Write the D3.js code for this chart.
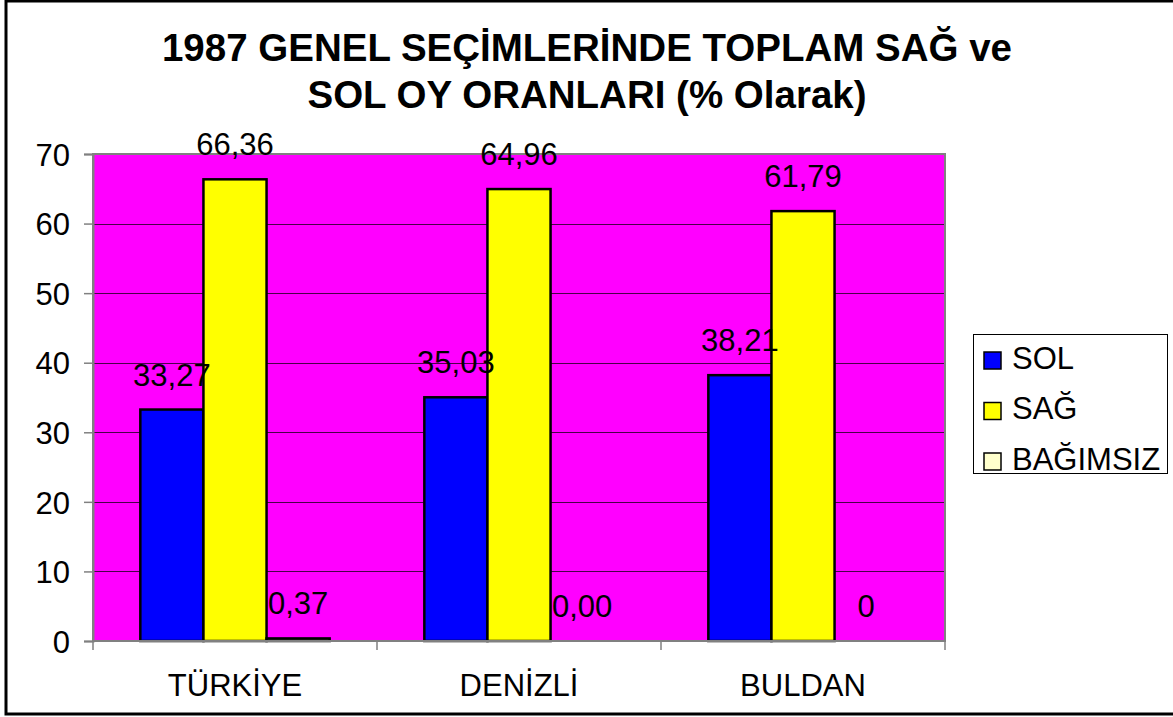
<!DOCTYPE html>
<html>
<head>
<meta charset="utf-8">
<script src="https://cdn.jsdelivr.net/npm/d3@7"></script>
<style>
  body { margin: 0; background: #fff; }
  svg { display: block; font-family: "Liberation Sans", Arial, sans-serif; }
</style>
</head>
<body>
<div id="container"></div>
<script>
var width = 1173;
var height = 717;

// data
var categories = ["TÜRKİYE", "DENİZLİ", "BULDAN"];
var seriesNames = ["SOL", "SAĞ", "BAĞIMSIZ"];
var solValues = [33.27, 35.03, 38.21];
var sagValues = [66.36, 64.96, 61.79];
var bagimsizValues = [0.37, 0.0, 0];
var solLabels = ["33,27", "35,03", "38,21"];
var sagLabels = ["66,36", "64,96", "61,79"];
var bagimsizLabels = ["0,37", "0,00", "0"];
var yTicks = [0, 10, 20, 30, 40, 50, 60, 70];
var titleLines = ["1987 GENEL SEÇİMLERİNDE TOPLAM SAĞ ve", "SOL OY ORANLARI (% Olarak)"];

var colors = { "SOL": "#0000ff", "SAĞ": "#ffff00", "BAĞIMSIZ": "#ffffcc" };

var allValues = [solValues, sagValues, bagimsizValues];
var allLabels = [solLabels, sagLabels, bagimsizLabels];

var rows = [];
categories.forEach(function (c, i) {
  seriesNames.forEach(function (s, j) {
    rows.push({ cat: c, series: s, value: allValues[j][i], label: allLabels[j][i] });
  });
});

var svg = d3.select("div#container")
  .append("svg")
  .attr("width", width)
  .attr("height", height);

// outer frame (right side runs off the picture)
svg.append("rect")
  .attr("x", 6).attr("y", 1)
  .attr("width", 1200).attr("height", 713)
  .attr("fill", "#fff")
  .attr("stroke", "#000")
  .attr("stroke-width", 3);

// plot area
var plot = { left: 93, right: 945, top: 154, bottom: 641 };

var x = d3.scaleBand().domain(categories).range([plot.left, plot.right]).padding(0);
var xInner = d3.scaleBand().domain(seriesNames).range([0, x.bandwidth()])
  .paddingInner(0).paddingOuter(0.75);
var y = d3.scaleLinear().domain([0, 70]).range([plot.bottom, plot.top]);

svg.append("rect")
  .attr("x", plot.left).attr("y", plot.top)
  .attr("width", plot.right - plot.left).attr("height", plot.bottom - plot.top)
  .attr("fill", "#ff00ff");

// gridlines
svg.append("g")
  .selectAll("line")
  .data(yTicks.filter(function (d) { return d > 0 && d < 70; }))
  .enter()
  .append("line")
  .attr("x1", plot.left).attr("x2", plot.right)
  .attr("y1", function (d) { return Math.round(y(d)) + 0.5; })
  .attr("y2", function (d) { return Math.round(y(d)) + 0.5; })
  .attr("stroke", "#4a004a")
  .attr("stroke-width", 1);

// plot border
svg.append("rect")
  .attr("x", plot.left).attr("y", plot.top)
  .attr("width", plot.right - plot.left).attr("height", plot.bottom - plot.top)
  .attr("fill", "none")
  .attr("stroke", "#808080")
  .attr("stroke-width", 2);

// bars
svg.append("g")
  .selectAll("rect")
  .data(rows)
  .enter()
  .append("rect")
  .attr("x", function (d) { return x(d.cat) + xInner(d.series); })
  .attr("y", function (d) { return y(d.value); })
  .attr("width", xInner.bandwidth())
  .attr("height", function (d) { return y(0) - y(d.value); })
  .attr("fill", function (d) { return colors[d.series]; })
  .attr("stroke", function (d) { return d.value > 0 ? "#000" : "none"; })
  .attr("stroke-width", 2.5);

// value labels
svg.append("g")
  .selectAll("text")
  .data(rows)
  .enter()
  .append("text")
  .attr("x", function (d) { return x(d.cat) + xInner(d.series) + xInner.bandwidth() / 2; })
  .attr("y", function (d) { return y(d.value) - 24; })
  .attr("text-anchor", "middle")
  .attr("font-size", 31)
  .attr("fill", "#000")
  .text(function (d) { return d.label; });

// y axis
var yAxis = d3.axisLeft(y).tickValues(yTicks).tickSize(9).tickPadding(14)
  .tickFormat(d3.format("d"));
var gy = svg.append("g")
  .attr("transform", "translate(" + plot.left + ",0)")
  .call(yAxis);
gy.select(".domain").attr("stroke", "#808080").attr("stroke-width", 2);
gy.selectAll(".tick line").attr("stroke", "#808080").attr("stroke-width", 1.5);
gy.selectAll(".tick text")
  .attr("font-size", 31)
  .attr("font-family", "'Liberation Sans', Arial, sans-serif")
  .attr("fill", "#000")
  .attr("dy", "0.36em");

// x axis
var gx = svg.append("g")
  .attr("transform", "translate(0," + plot.bottom + ")");
gx.append("line")
  .attr("x1", plot.left).attr("x2", plot.right)
  .attr("y1", 0).attr("y2", 0)
  .attr("stroke", "#808080").attr("stroke-width", 2);
var catEdges = categories.map(function (c) { return x(c); }).concat([plot.right]);
gx.selectAll("line.tick")
  .data(catEdges)
  .enter()
  .append("line")
  .attr("class", "tick")
  .attr("x1", function (d) { return d; }).attr("x2", function (d) { return d; })
  .attr("y1", 0).attr("y2", 9)
  .attr("stroke", "#808080").attr("stroke-width", 1.5);
gx.selectAll("text")
  .data(categories)
  .enter()
  .append("text")
  .attr("x", function (d) { return x(d) + x.bandwidth() / 2; })
  .attr("y", 55)
  .attr("text-anchor", "middle")
  .attr("font-size", 31)
  .attr("fill", "#000")
  .text(function (d) { return d; });

// title
svg.append("g")
  .selectAll("text")
  .data(titleLines)
  .enter()
  .append("text")
  .attr("x", 587)
  .attr("y", function (d, i) { return 61 + i * 47; })
  .attr("text-anchor", "middle")
  .attr("font-size", 38.5)
  .attr("font-weight", "bold")
  .attr("fill", "#000")
  .text(function (d) { return d; });

// legend
var legend = svg.append("g");
legend.append("rect")
  .attr("x", 973.5).attr("y", 334.5)
  .attr("width", 194).attr("height", 139)
  .attr("fill", "#fff")
  .attr("stroke", "#000")
  .attr("stroke-width", 1);
var items = legend.selectAll("g.item")
  .data(seriesNames)
  .enter()
  .append("g")
  .attr("class", "item")
  .attr("transform", function (d, i) { return "translate(984," + (352 + i * 50.5) + ")"; });
items.append("rect")
  .attr("width", 17).attr("height", 17)
  .attr("fill", function (d) { return colors[d]; })
  .attr("stroke", "#000")
  .attr("stroke-width", 1.5);
items.append("text")
  .attr("x", 28)
  .attr("y", 16.5)
  .attr("font-size", 31)
  .attr("fill", "#000")
  .text(function (d) { return d; });
</script>
</body>
</html>
